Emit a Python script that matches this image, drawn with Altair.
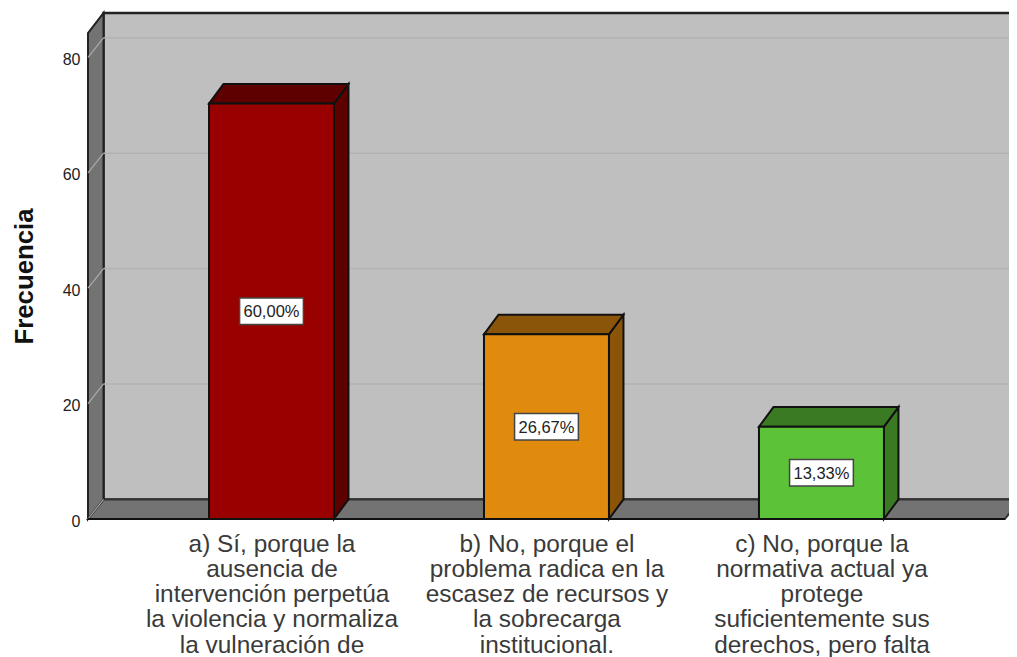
import json
import altair as alt
import pandas as pd

# values
categories = [
    ["a) Sí, porque la", "ausencia de", "intervención perpetúa", "la violencia y normaliza", "la vulneración de"],
    ["b) No, porque el", "problema radica en la", "escasez de recursos y", "la sobrecarga", "institucional."],
    ["c) No, porque la", "normativa actual ya", "protege", "suficientemente sus", "derechos, pero falta"],
]
positions = [1, 2, 3]
frequencies = [72, 32, 16]
percent_labels = ["60,00%", "26,67%", "13,33%"]
front_colors = ["#990000", "#E08A0E", "#5CC238"]
dark_colors = ["#5E0000", "#8A5509", "#3A7A23"]
y_ticks = [0, 20, 40, 60, 80]

# 3-D frame, in data units
X_MIN, X_MAX = 0.3327, 3.682
Y_MIN, Y_MAX = 0.0, 87.7
DX, DY = 0.0564, 3.4          # depth offset
BAR_DX = 0.0527
FRONT_TOP = 84.2
FLOOR_RIGHT = 3.667
BAR_W = 0.4545

x_scale = alt.Scale(domain=[X_MIN, X_MAX], nice=False, zero=False)
y_scale = alt.Scale(domain=[Y_MIN, Y_MAX], nice=False, zero=False)

label_lines = json.dumps(categories, ensure_ascii=False)
x_axis = alt.Axis(
    values=positions, labelExpr=f"{label_lines}[datum.value - 1]",
    domain=False, ticks=False, grid=False, labelPadding=13, labelFont="Liberation Sans",
    labelFontSize=24.4, labelLineHeight=25.3, labelColor="#3A3A3A", labelOverlap=False,
    labelFlush=False, labelBound=False, labelLimit=0, labelBaseline="top", labelAlign="center",
    title=None)
y_axis = alt.Axis(
    values=y_ticks, domain=False, ticks=False, grid=False, labelPadding=8, labelOffset=2,
    labelFont="Liberation Sans", labelFontSize=16, labelColor="#222222",
    title="Frecuencia",
    titleFont="Liberation Sans", titleFontSize=25.8, titleFontWeight="bold", titleColor="#111111",
    titleX=-51, titleY=263)


def X(field="x"):
    return alt.X(f"{field}:Q", scale=x_scale, axis=x_axis)


def Y(field="y"):
    return alt.Y(f"{field}:Q", scale=y_scale, axis=y_axis)


def face(points, fill, stroke="#111111", sw=2.0):
    """points: (x, lower y, upper y) rows of a filled shape"""
    df = pd.DataFrame(points, columns=["x", "y", "y2"])
    return alt.Chart(df).mark_area(fill=fill, stroke=stroke, strokeWidth=sw, opacity=1).encode(
        x=X(), y=Y(), y2="y2:Q",
    )


layers = []

# back wall
layers.append(face([(X_MIN + DX, DY, Y_MAX), (X_MAX + 0.1, DY, Y_MAX)], "#BFBFBF", "#222222", 2.5))
# floor
layers.append(face([
    (X_MIN, 0, 0), (X_MIN + DX, 0, DY), (FLOOR_RIGHT, 0, DY), (FLOOR_RIGHT + DX, DY, DY),
], "#737373", "#333333", 2))
# left wall
layers.append(face([(X_MIN, 0, FRONT_TOP), (X_MIN + DX, DY, Y_MAX)], "#737373", "#222222", 2))

# gridlines on back wall and left wall
grid_rows = []
for t in y_ticks:
    grid_rows.append({"g": t, "x": X_MIN, "y": t})
    grid_rows.append({"g": t, "x": X_MIN + DX, "y": t + DY})
grid_side = pd.DataFrame(grid_rows)
layers.append(
    alt.Chart(grid_side).mark_line(color="#ABABAB", strokeWidth=1.2).encode(
        x=X(), y=Y(), detail="g:N",
    )
)
grid_back = pd.DataFrame({
    "x": [X_MIN + DX] * 4, "x2": [X_MAX + 0.1] * 4, "y": [t + DY for t in y_ticks[1:]],
})
layers.append(
    alt.Chart(grid_back).mark_rule(color="#B2B2B2", strokeWidth=1.5).encode(
        x=X(), x2="x2:Q", y=Y(),
    )
)
# front edge of the floor
layers.append(
    alt.Chart(pd.DataFrame({"x": [X_MIN], "x2": [FLOOR_RIGHT], "y": [0]})).mark_rule(color="#111111", strokeWidth=2).encode(
        x=X(), x2="x2:Q", y=Y(),
    )
)

# bars
for p, f, c, d in zip(positions, frequencies, front_colors, dark_colors):
    l, r = p - BAR_W / 2, p + BAR_W / 2
    # side face
    layers.append(face([(r, 0, f), (r + BAR_DX, DY, f + DY)], d))
    # top face
    layers.append(face([
        (l, f, f), (l + BAR_DX, f, f + DY), (r, f, f + DY), (r + BAR_DX, f + DY, f + DY),
    ], d))
    # front face
    front = pd.DataFrame({"x": [l], "x2": [r], "y": [0], "y2": [f]})
    layers.append(
        alt.Chart(front).mark_rect(fill=c, stroke="#111111", strokeWidth=2).encode(
            x=X(), x2="x2:Q", y=Y(), y2="y2:Q",
        )
    )

# percentage boxes
BOX_W, BOX_H = 0.116, 2.3
labels = pd.DataFrame({
    "x": positions,
    "y": [v / 2 for v in frequencies],
    "x1": [p - BOX_W for p in positions],
    "x2": [p + BOX_W for p in positions],
    "y1": [v / 2 - BOX_H for v in frequencies],
    "y2": [v / 2 + BOX_H for v in frequencies],
    "t": percent_labels,
})
layers.append(
    alt.Chart(labels).mark_rect(fill="white", stroke="#444444", strokeWidth=1.5).encode(
        x=X("x1"), x2="x2:Q", y=Y("y1"), y2="y2:Q",
    )
)
layers.append(
    alt.Chart(labels).mark_text(font="Liberation Sans", fontSize=16.5, color="#222222", baseline="middle", dy=1).encode(
        x=X(), y=Y(), text="t:N",
    )
)

chart = alt.layer(*layers).properties(
    width=921, height=506,
    background="white",
    padding={"left": 80, "top": 5, "right": 0, "bottom": 138},
    autosize=alt.AutoSizeParams(type="none"),
).configure_view(stroke=None)

chart.save("out.html", embed_options={"renderer": "svg", "actions": False})
